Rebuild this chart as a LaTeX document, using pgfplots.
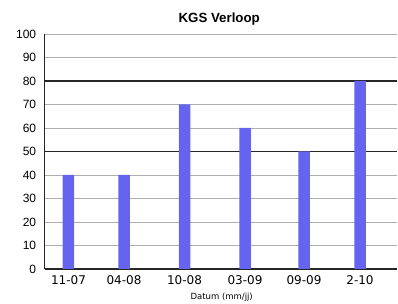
\documentclass[border=0pt]{standalone}
\usepackage{fontspec}
\setmainfont{Liberation Sans}
\newfontfamily\dejavu{DejaVu Sans}
\usepackage{pgfplots}
\pgfplotsset{compat=1.18}
\definecolor{barblue}{RGB}{100,100,240}
\definecolor{gridgray}{RGB}{175,175,175}
\begin{document}
\begin{tikzpicture}
\begin{axis}[
  scale only axis,
  width=352.3pt, height=235pt,
  xmin=44.7, xmax=397,
  ymin=0, ymax=100,
  axis x line*=bottom, axis y line*=left,
  axis line style={black!85, line width=1.3pt},
  x axis line style={-}, y axis line style={-},
  ytick={0,10,...,100},
  xtick={68.5,124,184.5,245,304,360},
  xticklabels={11-07,04-08,10-08,03-09,09-09,2-10},
  major tick length=0pt,
  ymajorgrids,
  grid style={gridgray, line width=0.9pt},
  /pgf/number format/assume math mode=true,
  yticklabel style={font=\fontsize{12}{13}\selectfont, xshift=-5pt},
  xticklabel style={font=\dejavu\fontsize{12}{13}\selectfont, yshift=-3pt},
  clip=false,
]
\draw[black!85, line width=1.3pt] (axis cs:44.7,50) -- (axis cs:397,50);
\draw[black!85, line width=1.3pt] (axis cs:44.7,80) -- (axis cs:397,80);
\addplot[ybar, bar width=11.5pt, fill=barblue, draw=none] coordinates {
  (68.5,40) (124,40) (184.5,70) (245,60) (304,50) (360,80)
};
\end{axis}
\path[use as bounding box] (-44.7pt,-35pt) rectangle (353.3pt,269pt);
\node[anchor=base, font=\bfseries\fontsize{13.3}{14}\selectfont] at (174.5pt,246pt) {KGS Verloop};
\node[anchor=base, font=\dejavu\fontsize{8.5}{9}\selectfont] at (177pt,-31pt) {Datum (mm/jj)};
\end{tikzpicture}
\end{document}
